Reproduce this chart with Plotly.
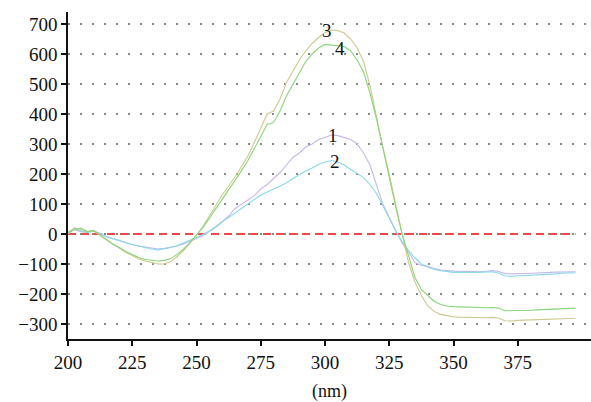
import numpy as np
import plotly.graph_objects as go

# wavelength (nm), 2.5 nm steps
wl = list(np.arange(200, 400, 2.5))

s1 = [5, 15, 8, 5, 10, 0, -8, -15, -22, -30, -35, -40, -44, -48, -50, -48, -45, -40, -33, -25,
      -15, -5, 8, 22, 40, 60, 85, 100, 115, 128, 150, 165, 185, 205, 230, 255, 270, 290, 300, 315,
      322, 330, 328, 322, 315, 300, 270, 230, 165, 100, 55, 10, -30, -60, -95, -105, -108, -115, -120, -122,
      -124, -125, -124, -126, -126, -124, -122, -125, -132, -133, -133, -132, -131, -130, -130, -128, -127, -127, -125, -126]

s2 = [0, 20, 10, 5, 10, 2, -10, -15, -22, -30, -35, -42, -46, -50, -53, -50, -45, -38, -30, -22,
      -12, -2, 10, 25, 42, 55, 70, 85, 100, 115, 130, 140, 150, 160, 170, 185, 198, 210, 220, 232,
      240, 245, 240, 230, 215, 200, 188, 165, 135, 95, 50, 10, -25, -55, -80, -100, -110, -118, -122, -126,
      -128, -128, -129, -128, -128, -127, -126, -130, -140, -141, -140, -140, -139, -138, -136, -134, -133, -131, -130, -129]

s3 = [5, 20, 15, 8, 10, -5, -22, -35, -48, -62, -72, -83, -90, -96, -100, -100, -92, -75, -55, -30,
      -5, 25, 60, 95, 130, 160, 190, 225, 260, 305, 350, 400, 410, 450, 505, 545, 580, 610, 635, 655,
      672, 680, 678, 670, 650, 620, 575, 495, 390, 290, 200, 95, 0, -95, -160, -205, -240, -258, -268, -272,
      -276, -277, -278, -278, -279, -279, -278, -280, -289, -290, -288, -287, -286, -285, -284, -283, -283, -282, -282, -281]

s4 = [5, 15, 20, 8, 12, -3, -20, -33, -45, -58, -68, -78, -85, -88, -90, -88, -82, -68, -50, -28,
      -3, 22, 52, 85, 118, 148, 178, 210, 245, 285, 325, 365, 372, 410, 460, 500, 540, 575, 600, 620,
      632, 630, 628, 625, 610, 580, 540, 470, 385, 285, 185, 90, 0, -70, -145, -185, -205, -225, -235, -240,
      -242, -243, -244, -244, -245, -246, -245, -247, -256, -256, -255, -255, -254, -253, -252, -251, -250, -249, -248, -247]

labels = ["1", "2", "3", "4"]
label_x = [303, 303.8, 300.6, 305.7]
label_y = [327, 243, 677, 620]

xticks = [200, 225, 250, 275, 300, 325, 350, 375]
yticks = [-300, -200, -100, 0, 100, 200, 300, 400, 500, 600, 700]

colors = ["#c6b8e8", "#8ad8e8", "#cec88e", "#8ad47a"]
FONT = "Liberation Serif"

fig = go.Figure()
fig.add_trace(go.Scatter(x=[200, 397.5], y=[0, 0], mode="lines",
                         line=dict(color="#f04848", width=2, dash="8px,5px"),
                         showlegend=False, hoverinfo="skip"))
for s, c in zip([s1, s2, s3, s4], colors):
    fig.add_trace(go.Scatter(x=wl, y=s, mode="lines", line=dict(color=c, width=1.1),
                             showlegend=False))

for t, x, y in zip(labels, label_x, label_y):
    fig.add_annotation(x=x, y=y, text=t, showarrow=False,
                       font=dict(family=FONT, size=19, color="#111"))

fig.update_layout(
    width=591, height=402,
    margin=dict(l=68, r=0, t=12, b=63),
    paper_bgcolor="white", plot_bgcolor="white",
    font=dict(family=FONT, size=19, color="#111"),
    xaxis=dict(range=[200, 403.5], tickvals=xticks, ticks="outside", ticklen=5,
               tickwidth=1.5, tickcolor="#111", showline=True, linecolor="#111",
               linewidth=1.5, showgrid=False, zeroline=False,
               title=dict(text="(nm)", font=dict(family=FONT, size=18), standoff=15)),
    yaxis=dict(range=[-350, 740], tickvals=yticks, ticks="outside", ticklen=5,
               tickwidth=1.5, tickcolor="#111", showline=True, linecolor="#111",
               linewidth=1.5, showgrid=True, gridcolor="#888", gridwidth=1.5,
               griddash="1.5px,10.5px", zeroline=False),
)

fig.write_html("out.html", config={"displayModeBar": False},
               post_script="document.body.style.margin='0px';document.body.style.overflow='hidden';")
